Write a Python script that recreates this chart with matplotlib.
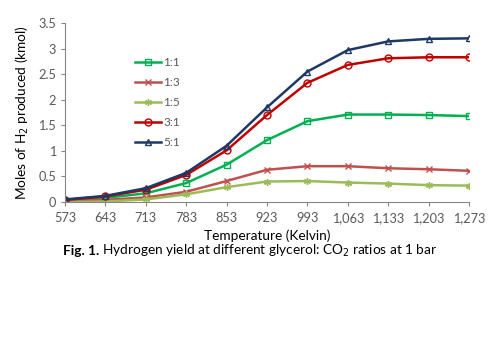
import matplotlib
matplotlib.use("Agg")
import matplotlib.pyplot as plt

temps = ["573", "643", "713", "783", "853", "923", "993", "1,063", "1,133", "1,203", "1,273"]
r11 = [0.02, 0.08, 0.17, 0.37, 0.73, 1.21, 1.58, 1.71, 1.71, 1.70, 1.68]
r13 = [0.02, 0.04, 0.09, 0.20, 0.41, 0.63, 0.70, 0.70, 0.66, 0.64, 0.61]
r15 = [0.00, 0.01, 0.05, 0.15, 0.29, 0.40, 0.41, 0.38, 0.36, 0.33, 0.32]
r31 = [0.04, 0.11, 0.24, 0.53, 1.01, 1.70, 2.33, 2.68, 2.81, 2.83, 2.83]
r51 = [0.05, 0.12, 0.27, 0.57, 1.10, 1.85, 2.55, 2.97, 3.14, 3.19, 3.20]

plt.rcParams['font.family'] = ['Lato', 'DejaVu Sans']

fig = plt.figure(figsize=(5.03, 3.61), dpi=100)
ax = fig.add_axes([65/503, 1-202/361, (469-65)/503, (202-23)/361])

x = list(range(len(temps)))
series = [
    ("1:1", r11, "#00B050", "s"),
    ("1:3", r13, "#C0504D", "x"),
    ("1:5", r15, "#9BBB59", (6, 2, 0)),
    ("3:1", r31, "#C00000", "o"),
    ("5:1", r51, "#1F3864", "^"),
]
for lab, vals, col, mk in series:
    ax.plot(x, vals, color=col, lw=1.8, marker=mk, markersize=5,
            markerfacecolor="none", markeredgecolor=col, markeredgewidth=1.0, label=lab)

ax.set_xlim(0, len(temps) - 1)
ax.set_ylim(0, 3.5)
ax.set_xticks(x)
ax.set_xticklabels(temps)
ax.set_yticks([0, 0.5, 1, 1.5, 2, 2.5, 3, 3.5])
ax.set_yticklabels(["0", "0.5", "1", "1.5", "2", "2.5", "3", "3.5"])
for s in ["top", "right"]:
    ax.spines[s].set_visible(False)
for s in ["left", "bottom"]:
    ax.spines[s].set_color("#868686")
    ax.spines[s].set_linewidth(0.8)
ax.tick_params(axis="both", colors="#868686", labelcolor="#595959", labelsize=9.2, length=3, width=0.8)
ax.tick_params(axis="x", pad=4)

ax.set_ylabel("Moles of H$_2$ produced (kmol)", fontsize=9.8, color="black", labelpad=5)
ax.set_xlabel("Temperature (Kelvin)", fontsize=9.8, color="black", labelpad=4)

leg = ax.legend(loc="upper left", bbox_to_anchor=(0.162, 0.835), frameon=False, fontsize=8.5,
                labelspacing=0.75, handlelength=2.2, handletextpad=0.2, labelcolor="#595959",
                borderaxespad=0)

# caption: bold part + normal part
fig.canvas.draw()
r = fig.canvas.get_renderer()
ybase = 1 - 251/361
t1 = fig.text(0, ybase, "Fig. 1.", fontsize=9.8, fontweight="bold", ha="left", va="center")
t2 = fig.text(0, ybase, " Hydrogen yield at different glycerol: CO$_2$ ratios at 1 bar",
              fontsize=9.8, ha="left", va="center")
w1 = t1.get_window_extent(r).width
w2 = t2.get_window_extent(r).width
total = w1 + w2
x0 = 250 - total / 2
t1.set_x(x0 / 503)
t2.set_x((x0 + w1) / 503)

fig.savefig("out.png", dpi=100)
